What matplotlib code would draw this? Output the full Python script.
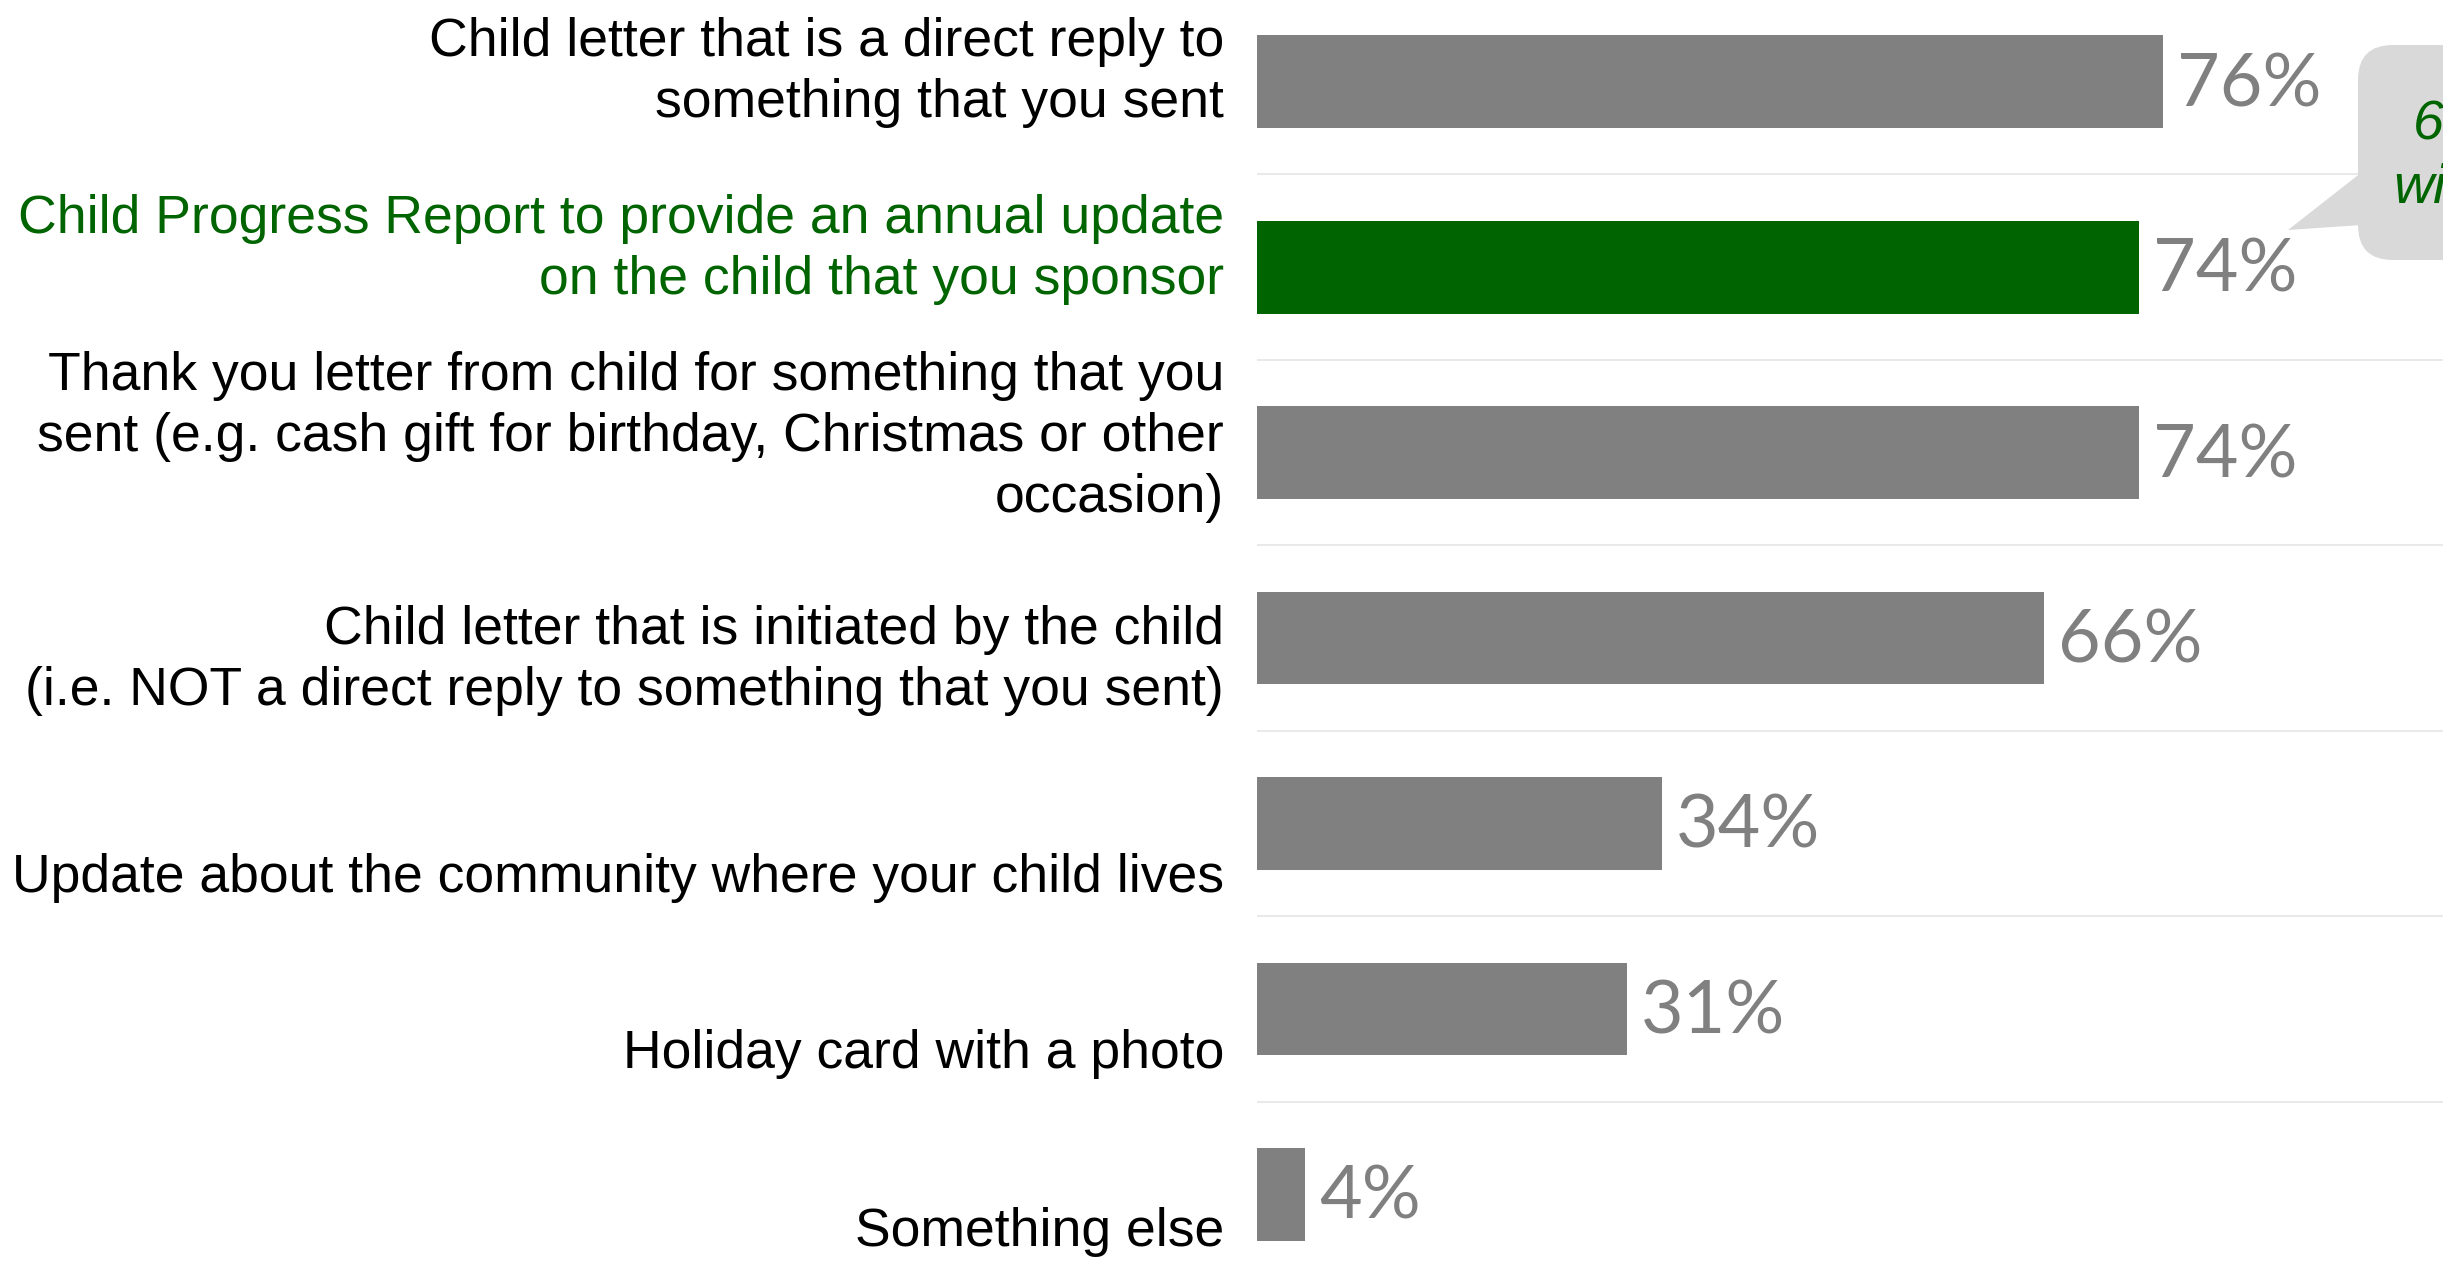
import matplotlib.pyplot as plt
from matplotlib.patches import FancyBboxPatch, Polygon
from matplotlib.transforms import Affine2D

# data
labels = [
    "Child letter that is a direct reply to\nsomething that you sent",
    "Child Progress Report to provide an annual update\non the child that you sponsor",
    "Thank you letter from child for something that you\nsent (e.g. cash gift for birthday, Christmas or other\noccasion)",
    "Child letter that is initiated by the child\n(i.e. NOT a direct reply to something that you sent)",
    "Update about the community where your child lives",
    "Holiday card with a photo",
    "Something else",
]
values = [76, 74, 74, 66, 34, 31, 4]
highlight = 1
callout_lines = ["6", "wi"]

GREY = "#808080"
GREEN = "#006400"
W, H = 2443, 1286

# last-line baseline of each label relative to its bar (in rows)
label_shift = [0.19, 0.145, 0.32, 0.36, 0.37, 0.32, 0.28]

fig = plt.figure(figsize=(W / 100, H / 100), dpi=100)
ax = fig.add_axes([1257 / W, -1 / H, 1 - 1257 / W, 1298 / H])
ax.set_xlim(0, 99.5)
ax.set_ylim(len(values) - 0.5, -0.5)
ax.axis("off")

colors = [GREEN if i == highlight else GREY for i in range(len(values))]
ypos = list(range(len(values)))
ax.barh(ypos, values, height=0.5, color=colors, zorder=2)

for k in range(len(values)):
    ax.axhline(k + 0.5, color="#e9e9e9", lw=1.5, zorder=1)

for i, (lab, v) in enumerate(zip(labels, values)):
    ax.annotate(lab, xy=(0, i + label_shift[i]), xytext=(-33, 0),
                textcoords="offset pixels", ha="right", va="baseline",
                fontsize=38.5, family="Liberation Sans", linespacing=1.28,
                color=GREEN if i == highlight else "black")
    ax.annotate(f"{v}%", xy=(v, i), xytext=(14, -4), textcoords="offset pixels",
                ha="left", va="center", fontsize=53, family="Lato",
                fontweight="normal", color=GREY)

# speech-bubble callout, cut off by the right edge
tr = Affine2D().scale(1, -1).translate(0, H)
box = FancyBboxPatch((2358, 45), 300, 215, boxstyle="round,pad=0,rounding_size=35",
                     facecolor="#d9d9d9", edgecolor="none", transform=tr)
tip = Polygon([(2362, 172), (2288, 230), (2362, 225)], closed=True,
              facecolor="#d9d9d9", edgecolor="none", transform=tr)
fig.add_artist(box)
fig.add_artist(tip)
fig.text(2413, 140, callout_lines[0], transform=tr, ha="left", va="baseline",
         fontsize=40, style="italic", family="Liberation Sans", color=GREEN)
fig.text(2393, 203, callout_lines[1], transform=tr, ha="left", va="baseline",
         fontsize=40, style="italic", family="Liberation Sans", color=GREEN)

fig.savefig("out.png", dpi=100)
